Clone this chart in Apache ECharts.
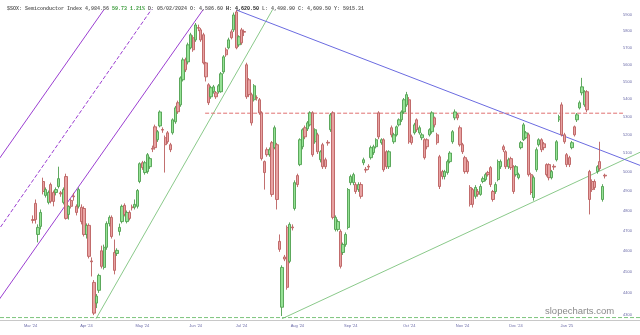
<!DOCTYPE html>
<html><head><meta charset="utf-8">
<script src="https://cdn.jsdelivr.net/npm/echarts@6/dist/echarts.min.js"></script>
<style>html,body{margin:0;padding:0;background:#fff}#c{width:640px;height:335px}</style>
</head><body><div id="c"></div>
<script>
// daily candles: [open, close, low, high]
const candles = [
[4754,4750,4735,4775],[4836,4754,4734,4856],[4680,4715,4641,4730],[4720,4790,4705,4805],[4949,4897,4882,4969],
[4877,4907,4866,4918],[4841,4892,4831,4902],[4933,4846,4836,4943],[4892,4846,4821,4902],[4892,4907,4877,4918],
[4923,4964,4913,5027],[4890,4885,4870,4900],[4841,4907,4831,4918],[4975,4760,4754,4990],[4780,4821,4754,4826],
[4851,4821,4810,4861],[4874,4870,4850,4890],[4821,4790,4775,4831],[4821,4907,4810,4918],[4816,4744,4730,4831],
[4810,4680,4670,4821],[4680,4725,4660,4735],[4725,4573,4563,4735],[4551,4547,4477,4568],[4449,4307,4298,4460],
[4353,4385,4330,4395],[4412,4482,4400,4490],[4600,4525,4515,4625],[4520,4617,4510,4630],[4617,4734,4605,4745],
[4734,4765,4720,4775],[4765,4670,4660,4775],[4592,4506,4487,4655],[4587,4602,4575,4612],[4695,4715,4675,4734],
[4744,4821,4735,4830],[4826,4780,4770,4836],[4744,4790,4735,4800],[4790,4760,4750,4800],[4818,4814,4800,4830],
[4816,4831,4805,4856],[4821,4902,4810,4910],[4949,5043,4940,5050],[5048,5022,5010,5058],[4996,5048,4985,5058],
[5001,5091,4990,5100],[5027,5070,5015,5080],[5125,5121,5105,5140],[5243,5129,5118,5255],[5172,5216,5160,5225],
[5248,5326,5240,5335],[5228,5225,5210,5240],[5183,5145,4996,5195],[5210,5161,5150,5220],[5145,5118,5105,5155],
[5210,5282,5200,5290],[5271,5349,5260,5360],[5378,5327,5315,5390],[5366,5521,5355,5530],[5510,5627,5500,5640],
[5627,5568,5555,5640],[5615,5717,5600,5730],[5699,5778,5690,5790],[5760,5687,5675,5775],[5747,5838,5735,5850],
[5822,5818,5800,5840],[5808,5747,5735,5820],[5778,5609,5600,5790],[5609,5527,5500,5615],[5481,5378,5365,5490],
[5412,5464,5400,5475],[5441,5469,5430,5480],[5435,5412,5400,5445],[5441,5475,5430,5485],[5441,5545,5435,5555],
[5556,5645,5545,5655],[5687,5657,5645,5700],[5699,5747,5690,5760],[5796,5760,5750,5810],[5808,5900,5795,5915],
[5919,5699,5690,5931],[5717,5766,5705,5775],[5808,5729,5717,5820],[5798,5794,5770,5810],[5598,5412,5400,5610],
[5510,5424,5410,5520],[5424,5265,5250,5435],[5395,5475,5385,5485],[5408,5404,5390,5420],[5395,5321,5310,5405],
[5321,5070,5060,5330],[5054,4996,4907,5060],[5118,5091,5080,5130],[5091,5118,5080,5130],[5156,4882,4870,5165],
[5129,5238,5120,5250],[5145,4856,4805,5155],[4646,4607,4595,4680],[4334,4520,4294,4530],[4570,4560,4550,4580],
[4715,4426,4415,4725],[4549,4730,4540,4740],[4717,4713,4700,4730],[4810,4943,4800,4955],[4980,4933,4920,4990],
[5038,5172,5030,5180],[5134,5227,5120,5235],[5238,5188,5175,5250],[5232,5265,5220,5275],[5254,5321,5245,5330],
[5321,5091,5080,5330],[5161,5227,5150,5235],[5199,5107,5095,5210],[5064,5107,5050,5115],[5145,5027,5015,5155],
[5064,5027,5015,5075],[5158,5154,5140,5170],[5227,5310,5215,5320],[5321,4765,4755,5330],[4705,4765,4695,4775],
[4705,4744,4695,4755],[4695,4525,4515,4705],[4592,4631,4580,4640],[4631,4680,4620,4690],[4715,4907,4705,4915],
[4943,4975,4930,4985],[4943,4985,4930,4995],[4933,4897,4885,4945],[4907,4933,4895,4945],[4933,4872,4860,4945],
[5048,5064,5035,5075],[5013,5009,4995,5025],[5029,5025,5010,5040],[5075,5129,5065,5140],[5102,5134,5090,5145],
[5134,5172,5125,5180],[5321,5188,5175,5330],[5156,5172,5145,5180],[5172,5011,5000,5180],[5107,5027,5015,5115],
[5027,5107,5015,5115],[5238,5199,5185,5250],[5161,5199,5150,5210],[5199,5243,5190,5250],[5254,5282,5245,5290],
[5282,5326,5270,5335],[5326,5395,5315,5405],[5366,5424,5355,5440],[5395,5161,5150,5410],[5188,5156,5145,5200],
[5210,5254,5200,5265],[5282,5227,5215,5290],[5210,5238,5200,5250],[5183,5199,5170,5210],[5172,5075,5065,5180],
[5172,5134,5120,5180],[5199,5227,5190,5235],[5216,5321,5205,5330],[5293,5254,5240,5300],[5199,5156,5145,5210],
[5080,4923,4910,5090],[5001,4975,4960,5010],[4975,5001,4960,5010],[4996,5054,4985,5065],[5054,5100,5045,5110],
[5161,5216,5150,5225],[5293,5326,5280,5340],[5310,5293,5280,5320],[5238,5145,5135,5250],[5145,5107,5095,5155],
[5075,5001,4990,5085],[5054,5001,4990,5065],[4918,4831,4820,4930],[4907,4831,4815,4915],[4872,4918,4860,4930],
[4897,4882,4870,4910],[4882,4923,4875,4935],[4949,4964,4940,4975],[4959,4985,4950,4995],[4996,4985,4975,5005],
[5022,4933,4920,5030],[4897,4856,4845,4905],[4897,4933,4885,4945],[4959,5054,4950,5065],[5027,5054,5015,5065],
[5134,5118,5105,5145],[5107,5027,5015,5115],[5027,5064,5015,5075],[5070,5022,5010,5080],[5027,4897,4885,5035],
[4985,5027,4975,5035],[4969,4985,4960,4995],[5129,5156,5120,5165],[5172,5254,5165,5265],[5183,5210,5175,5220],
[5199,4985,4975,5210],[4985,4892,4880,4995],[4866,4969,4850,4980],[5011,5118,5000,5130],[5145,5172,5135,5180],
[5172,5118,5105,5180],[5150,5129,5115,5160],[5038,4985,4975,5045],[5038,4969,4955,5045],[4969,5001,4960,5010],
[5029,5025,5010,5040],[5064,5161,5055,5170],[5282,5299,5270,5310],[5366,5199,5190,5380],[5199,5161,5150,5210],
[5091,5038,5025,5100],[5075,5038,5025,5085],[5129,5156,5120,5165],[5243,5199,5190,5250],[5282,5310,5270,5320],
[5349,5378,5340,5390],[5435,5469,5420,5521],[5366,5441,5355,5450],[5441,5338,5325,5450],[5001,4856,4780,5010],
[4949,4907,4895,4960],[4949,4918,4905,4960],[5001,5027,4990,5035],[5054,5017,5005,5161],[4856,4923,4845,4935],
[4982,4978,4965,4990]
];

// x-axis month labels and the trading-day index they sit on
const xTickLabels = ["Mar '24","Apr '24","May '24","Jun '24","Jul '24","Aug '24","Sep '24","Oct '24","Nov '24","Dec '24","Jan '25"];
const xTickIndex  = [-1, 21, 43, 64, 82, 104, 125, 148, 169, 190, 210];
// right price axis ticks
const yTicks = [4300,4400,4500,4600,4700,4800,4900,5000,5100,5200,5300,5400,5500,5600,5700,5800,5900];

// drawn annotation lines: [tradingDayIndex, price]
const channelUpper  = [[-20.85, 4925], [30.3, 5988]];
const channelMiddle = [[-20.85, 4572], [50.0, 6013]];
const channelLower  = [[-20.85, 4246], [69.6, 5994]];
const supportApr    = [[24.8, 4282], [96.4, 5994]];
const supportAug    = [[98.0, 4282], [238.8, 5104]];
const resistanceJul = [[80.0, 5931], [238.8, 5034]];
const resistanceLevel = [[67.7, 5319], [232.1, 5319]];
const floorLevel      = [[-13, 4287], [238.8, 4287]];

const headerText = '{a|$SOX: Semiconductor Index 4,984.56 }{g|59.73 1.21%}{a| D: 05/02/2024 O: 4,586.60 }{b|H: 4,620.50}{a| L: 4,498.90 C: 4,609.50 Y: 5915.31}';

const X_MIN = -13, X_MAX = 238.8;
const P_MIN = 4276, P_MAX = 5931;
const L = Math.log;
const toLog = pts => pts.map(p => [p[0], L(p[1])]);

const chart = echarts.init(document.getElementById('c'), null, {renderer: 'canvas'});

function lineSeries(pts, color, type, width) {
  return {
    type: 'line', data: toLog(pts), symbol: 'none', silent: true, clip: true,
    lineStyle: {color: color, width: width || 1, type: type || 'solid'}, z: 3
  };
}

const option = {
  animation: false,
  backgroundColor: '#ffffff',
  title: [
    {text: headerText, left: 2, top: 1, textStyle: {rich: {
      a: {fontFamily: 'Liberation Mono', fontSize: 5, color: '#666'},
      g: {fontFamily: 'Liberation Mono', fontSize: 5, color: '#3a9a3a'},
      b: {fontFamily: 'Liberation Mono', fontSize: 5, color: '#222', fontWeight: 'bold'}
    }}},
    {text: 'slopecharts.com', left: 540, top: 301, textStyle: {fontFamily: 'Liberation Sans', fontSize: 9.5, color: '#8a8a8a', fontWeight: 'normal'}}
  ],
  grid: {left: 0, right: 0, top: 10, bottom: 15},
  xAxis: {
    type: 'value', min: X_MIN, max: X_MAX,
    splitLine: {show: false},
    axisLine: {show: true, onZero: false, lineStyle: {color: '#c8c8c8', width: 1}},
    axisTick: {show: false},
    axisLabel: {
      customValues: xTickIndex,
      formatter: v => { const k = xTickIndex.indexOf(Math.round(v)); return k >= 0 ? xTickLabels[k] : ''; },
      fontSize: 4, color: '#6a6aa8', margin: 4, fontFamily: 'Liberation Sans'
    }
  },
  yAxis: {
    type: 'value', position: 'right', min: L(P_MIN), max: L(P_MAX),
    splitLine: {show: false},
    axisLine: {show: false},
    axisTick: {show: false},
    axisLabel: {
      inside: true, margin: 8,
      customValues: yTicks.map(L),
      formatter: v => String(Math.round(Math.exp(v))),
      fontSize: 4, color: '#6a6aa8', fontFamily: 'Liberation Sans'
    }
  },
  series: [
    lineSeries(floorLevel, '#7cc47c', 'dashed', 1),
    lineSeries(channelUpper, '#9b3fd1', 'solid', 1),
    lineSeries(channelMiddle, '#9b3fd1', 'dashed', 1),
    lineSeries(channelLower, '#9b3fd1', 'solid', 1),
    lineSeries(supportApr, '#6cbb6c', 'solid', 0.8),
    lineSeries(supportAug, '#6cbb6c', 'solid', 0.8),
    lineSeries(resistanceJul, '#6b6be0', 'solid', 1),
    lineSeries(resistanceLevel, '#e07070', 'dashed', 1),
    {
      type: 'candlestick',
      data: candles.map((c, i) => [i, L(c[0]), L(c[1]), L(c[2]), L(c[3])]),
      barWidth: 2.8,
      silent: true,
      z: 4,
      itemStyle: {
        color: '#95e295', color0: '#e8a2a2',
        borderColor: '#4f9f4f', borderColor0: '#bb6060', borderWidth: 0.9
      }
    }
  ]
};
chart.setOption(option);
</script>
</body></html>
